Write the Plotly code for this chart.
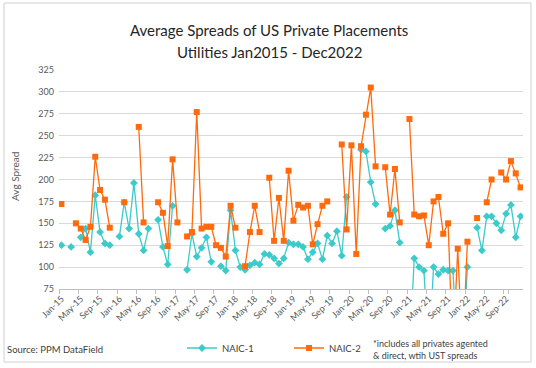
import plotly.graph_objects as go

months = ["Jan", "Feb", "Mar", "Apr", "May", "Jun", "Jul", "Aug", "Sep", "Oct", "Nov", "Dec"]
years = ["15", "16", "17", "18", "19", "20", "21", "22"]
categories = [f"{m}-{y}" for y in years for m in months]
tick_labels = categories[::4]

naic1 = [
    125, None, 123, None, 134, 144, 117, 182, 140, 127, 125, None,   # 2015
    135, 174, 144, 196, 138, 119, 144, None, 154, 123, 103, 170,     # 2016
    None, None, 97, 138, 112, 122, 134, 106, None, 101, 96, 165,     # 2017
    119, 100, 97, 102, 105, 103, 115, 114, 110, 104, 110, 128,       # 2018
    126, 126, 123, 109, 117, 127, 109, 136, 127, 141, 113, 180,      # 2019
    None, None, 234, 232, 197, 172, None, 144, 147, 165, 128, None,  # 2020
    0, 110, 100, 96, 0, 100, 92, 97, 96, 96, 0, 0,                   # 2021
    100, None, 145, 119, 158, 158, 150, 142, 161, 171, 134, 158,     # 2022
]
naic2 = [
    172, None, None, 150, 144, 131, 146, 226, 188, 177, 145, None,   # 2015
    None, 174, None, None, 260, 151, None, None, 174, 162, 124, 223, # 2016
    151, None, 135, 140, 277, 144, 146, 146, 125, 122, 112, 170,     # 2017
    145, None, 101, 140, 170, 140, None, 202, 130, 179, 130, 210,    # 2018
    153, 171, 168, 170, 126, 149, 170, 175, None, None, 240, 143,    # 2019
    239, 115, 238, 274, 305, 215, None, 214, 160, 212, 151, None,    # 2020
    269, 160, 158, 159, 125, 175, 180, 138, 150, 0, 121, 0,          # 2021
    129, None, 156, None, 174, 200, None, 208, 200, 221, 207, 191,   # 2022
]

FONT = "Lato"
TEAL = "#3CCBCB"
ORANGE = "#FF6A0D"

fig = go.Figure()
fig.add_trace(go.Scatter(
    x=categories, y=naic1, name="NAIC-1", mode="lines+markers",
    line=dict(color=TEAL, width=1.3),
    marker=dict(symbol="diamond", size=6, color=TEAL),
    connectgaps=False,
))
fig.add_trace(go.Scatter(
    x=categories, y=naic2, name="NAIC-2", mode="lines+markers",
    line=dict(color=ORANGE, width=1.3),
    marker=dict(symbol="square", size=6, color=ORANGE),
    connectgaps=False,
))

L, R, T, B = 59, 13, 70, 79
W, H = 536, 368
pw, ph = W - L - R, H - T - B

def px(x):
    return (x - L) / pw

def py(y):
    return (H - B - y) / ph

fig.update_layout(
    width=W, height=H,
    margin=dict(l=L, r=R, t=T, b=B, pad=0, autoexpand=False),
    paper_bgcolor="white", plot_bgcolor="white",
    font=dict(family=FONT, size=9, color="#595959"),
    showlegend=True,
    legend=dict(
        orientation="h", x=px(182), y=py(348), xanchor="left", yanchor="middle",
        font=dict(family=FONT, size=9.5, color="#404040"),
        entrywidth=62, entrywidthmode="pixels", bgcolor="rgba(0,0,0,0)",
    ),
    xaxis=dict(
        type="category", categoryorder="array", categoryarray=categories,
        tickmode="array", tickvals=tick_labels, ticktext=tick_labels,
        tickson="boundaries", ticks="outside", ticklen=4, tickcolor="#bfbfbf",
        tickangle=-45, showgrid=False, showline=True, linecolor="#bfbfbf",
        linewidth=1, zeroline=False, range=[-0.5, 95.5], automargin=False,
        tickfont=dict(family=FONT, size=9, color="#595959"),
    ),
    yaxis=dict(
        range=[75, 325], tick0=75, dtick=25, showgrid=True, gridcolor="#d9d9d9",
        gridwidth=1, zeroline=False, showline=False, ticks="", automargin=False,
        ticklabelstandoff=4,
        tickfont=dict(family=FONT, size=9, color="#595959"),
    ),
    shapes=[dict(
        type="rect", xref="paper", yref="paper",
        x0=px(4), x1=px(531), y0=py(362), y1=py(3),
        line=dict(color="#d0d0d0", width=1), fillcolor="rgba(0,0,0,0)", layer="below",
    )],
    annotations=[
        dict(text="Average Spreads of US Private Placements", xref="paper", yref="paper",
             x=px(269), y=py(30), xanchor="center", yanchor="middle", showarrow=False,
             font=dict(family=FONT, size=15, color="#262626")),
        dict(text="Utilities Jan2015 - Dec2022", xref="paper", yref="paper",
             x=px(269), y=py(52), xanchor="center", yanchor="middle", showarrow=False,
             font=dict(family=FONT, size=15, color="#262626")),
        dict(text="Avg Spread", xref="paper", yref="paper", textangle=-90,
             x=px(15), y=py(177), xanchor="center", yanchor="middle", showarrow=False,
             font=dict(family=FONT, size=10, color="#595959")),
        dict(text="Source: PPM DataField", xref="paper", yref="paper",
             x=px(5), y=py(349), xanchor="left", yanchor="middle", showarrow=False,
             font=dict(family=FONT, size=9.5, color="#404040")),
        dict(text="*includes all privates agented<br>& direct, wtih UST spreads",
             xref="paper", yref="paper", align="left",
             x=px(371), y=py(349), xanchor="left", yanchor="middle", showarrow=False,
             font=dict(family=FONT, size=9, color="#404040")),
    ],
)

fig.write_html(
    "out.html",
    config={"displayModeBar": False},
    post_script="document.body.style.margin='0';document.body.style.padding='0';",
)
